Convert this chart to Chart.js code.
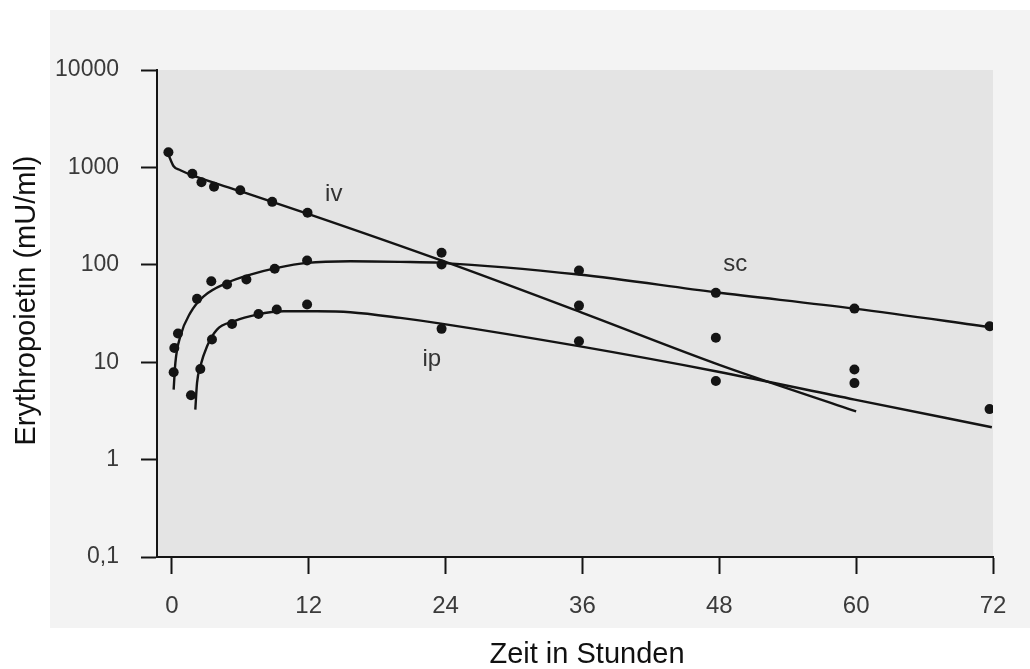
<!DOCTYPE html>
<html lang="de">
<head>
    <meta charset="UTF-8">
    <title>Erythropoietin – Serumspiegel nach iv, sc und ip Gabe</title>
    <style>
        html, body {
            margin: 0;
            padding: 0;
            background: #ffffff;
        }
        .chart-wrap {
            position: relative;
            width: 1030px;
            height: 669px;
        }
    </style>
</head>
<body>
    <div class="chart-wrap">
        <canvas id="chart"></canvas>
    </div>

    <script src="https://cdn.jsdelivr.net/npm/chart.js@4.4.0/dist/chart.umd.js"></script>
    <script>
        // Messpunkte (Zeit in h, Spiegel in mU/ml)
        const ivHours  = [-0.3, 1.8, 2.6, 3.7, 6.0, 8.8, 11.9, 23.65, 35.7, 47.7, 59.85];
        const ivLevels = [1430, 860, 705, 632, 583, 443, 342, 101, 38.1, 17.8, 8.4];

        const scHours  = [0.16, 0.22, 0.54, 2.21, 3.46, 4.84, 6.54, 9.02, 11.86, 23.65, 35.7, 47.7, 59.85, 71.7];
        const scLevels = [7.9, 14.0, 19.7, 44.7, 67.8, 62.7, 70.6, 90.9, 110.6, 133, 87.3, 51.5, 35.5, 23.4];

        const ipHours  = [1.68, 2.5, 3.52, 5.28, 7.6, 9.2, 11.86, 23.65, 35.7, 47.7, 59.85, 71.7];
        const ipLevels = [4.57, 8.5, 17.1, 24.7, 31.3, 34.7, 39.1, 22.0, 16.4, 6.4, 6.1, 3.3];

        // Angepasste Kurven
        const ivFitHours  = [-0.3, 0.16, 0.75, 2.0, 6.0, 12.0, 24.0, 36.0, 48.0, 60.0];
        const ivFitLevels = [1358, 1028, 936, 812, 570, 332, 107, 32.1, 9.4, 3.13];

        const scFitHours  = [0.16, 0.31, 0.75, 1.62, 2.79, 4.84, 6.89, 9.23, 11.86, 15.66, 20.04, 23.6, 35.68, 47.68, 59.87, 71.9];
        const scFitLevels = [5.23, 9.84, 18.5, 32.1, 47.5, 65.3, 79.4, 93.0, 104.7, 108.7, 107.2, 104.7, 79.4, 52.2, 35.5, 22.8];

        const ipFitHours  = [2.06, 2.21, 2.5, 3.09, 3.96, 5.42, 7.47, 9.81, 12.74, 15.66, 20.04, 23.6, 35.68, 47.68, 59.87, 71.9];
        const ipFitLevels = [3.26, 6.13, 9.08, 14.6, 21.6, 26.3, 30.8, 33.3, 33.3, 32.6, 28.5, 24.9, 14.6, 8.07, 4.13, 2.15];

        // Achsenbeschriftung
        const xTicks = [0, 12, 24, 36, 48, 60, 72];
        const yTicks = [0.1, 1, 10, 100, 1000, 10000];
        const xTitle = 'Zeit in Stunden';
        const yTitle = 'Erythropoietin (mU/ml)';

        // Kurvenbezeichnungen
        const curveNames  = ['iv', 'sc', 'ip'];
        const curveHours  = [14.2, 49.4, 22.8];
        const curveLevels = [450, 86, 9.1];

        const ink = '#141414';
        const tickInk = '#3a3a3a';
        const sans = '"Liberation Sans", Arial, sans-serif';

        const toPoints = (xs, ys) => xs.map((x, i) => ({ x: x, y: ys[i] }));

        function pointSet(xs, ys) {
            return {
                type: 'scatter',
                data: toPoints(xs, ys),
                pointRadius: 5,
                pointBackgroundColor: ink,
                pointBorderWidth: 0,
                showLine: false
            };
        }

        function curveSet(xs, ys) {
            return {
                type: 'line',
                data: toPoints(xs, ys),
                borderColor: ink,
                borderWidth: 2.4,
                pointRadius: 0,
                fill: false,
                cubicInterpolationMode: 'monotone'
            };
        }

        // Hintergrundflächen: heller Rahmen und graue Diagrammfläche
        const backdrop = {
            id: 'backdrop',
            beforeDraw(chart) {
                const { ctx, chartArea } = chart;
                ctx.save();
                ctx.fillStyle = '#f3f3f3';
                ctx.fillRect(50, 10, chart.width - 50, 618);
                ctx.fillStyle = '#e4e4e4';
                ctx.fillRect(chartArea.left, chartArea.top,
                    chartArea.right - chartArea.left, chartArea.bottom - chartArea.top);
                ctx.restore();
            }
        };

        // Achsentitel und Kurvenbezeichnungen
        const annotations = {
            id: 'annotations',
            afterDatasetsDraw(chart) {
                const { ctx, scales, chartArea } = chart;
                ctx.save();
                ctx.fillStyle = '#333333';
                ctx.font = '24px ' + sans;
                ctx.textAlign = 'center';
                ctx.textBaseline = 'alphabetic';
                curveNames.forEach((name, i) => {
                    ctx.fillText(name,
                        scales.x.getPixelForValue(curveHours[i]),
                        scales.y.getPixelForValue(curveLevels[i]));
                });

                ctx.fillStyle = '#111111';
                ctx.font = '29px ' + sans;
                ctx.textBaseline = 'middle';
                ctx.fillText(xTitle, (chartArea.left + chartArea.right) / 2 + 12, chart.height - 14);

                ctx.translate(27, (chartArea.top + chartArea.bottom) / 2 - 13);
                ctx.rotate(-Math.PI / 2);
                ctx.fillText(yTitle, 0, 0);
                ctx.restore();
            }
        };

        new Chart(document.getElementById('chart'), {
            data: {
                datasets: [
                    curveSet(ivFitHours, ivFitLevels),
                    curveSet(scFitHours, scFitLevels),
                    curveSet(ipFitHours, ipFitLevels),
                    pointSet(ivHours, ivLevels),
                    pointSet(scHours, scLevels),
                    pointSet(ipHours, ipLevels)
                ]
            },
            options: {
                responsive: true,
                maintainAspectRatio: false,
                animation: false,
                layout: {
                    padding: { top: 70, right: 37, left: 0, bottom: 0 }
                },
                plugins: {
                    legend: { display: false },
                    tooltip: { enabled: false }
                },
                scales: {
                    x: {
                        type: 'linear',
                        min: -1.3,
                        max: 72,
                        afterBuildTicks(scale) {
                            scale.ticks = xTicks.map(v => ({ value: v }));
                        },
                        afterFit(scale) {
                            scale.height = 112;
                        },
                        border: { display: true, color: ink, width: 2 },
                        grid: {
                            drawOnChartArea: false,
                            drawTicks: true,
                            tickLength: 17,
                            tickWidth: 2,
                            tickColor: ink
                        },
                        ticks: {
                            color: tickInk,
                            padding: 18,
                            maxRotation: 0,
                            font: { family: sans, size: 24 }
                        }
                    },
                    y: {
                        type: 'logarithmic',
                        min: 0.1,
                        max: 10000,
                        afterBuildTicks(scale) {
                            scale.ticks = yTicks.map(v => ({ value: v }));
                        },
                        afterFit(scale) {
                            scale.width = 157;
                        },
                        border: { display: true, color: ink, width: 2 },
                        grid: {
                            drawOnChartArea: false,
                            drawTicks: true,
                            tickLength: 16,
                            tickWidth: 2,
                            tickColor: ink
                        },
                        ticks: {
                            color: tickInk,
                            padding: 22,
                            font: { family: sans, size: 23 },
                            callback: v => String(v).replace('.', ',')
                        }
                    }
                }
            },
            plugins: [backdrop, annotations]
        });
    </script>
</body>
</html>
